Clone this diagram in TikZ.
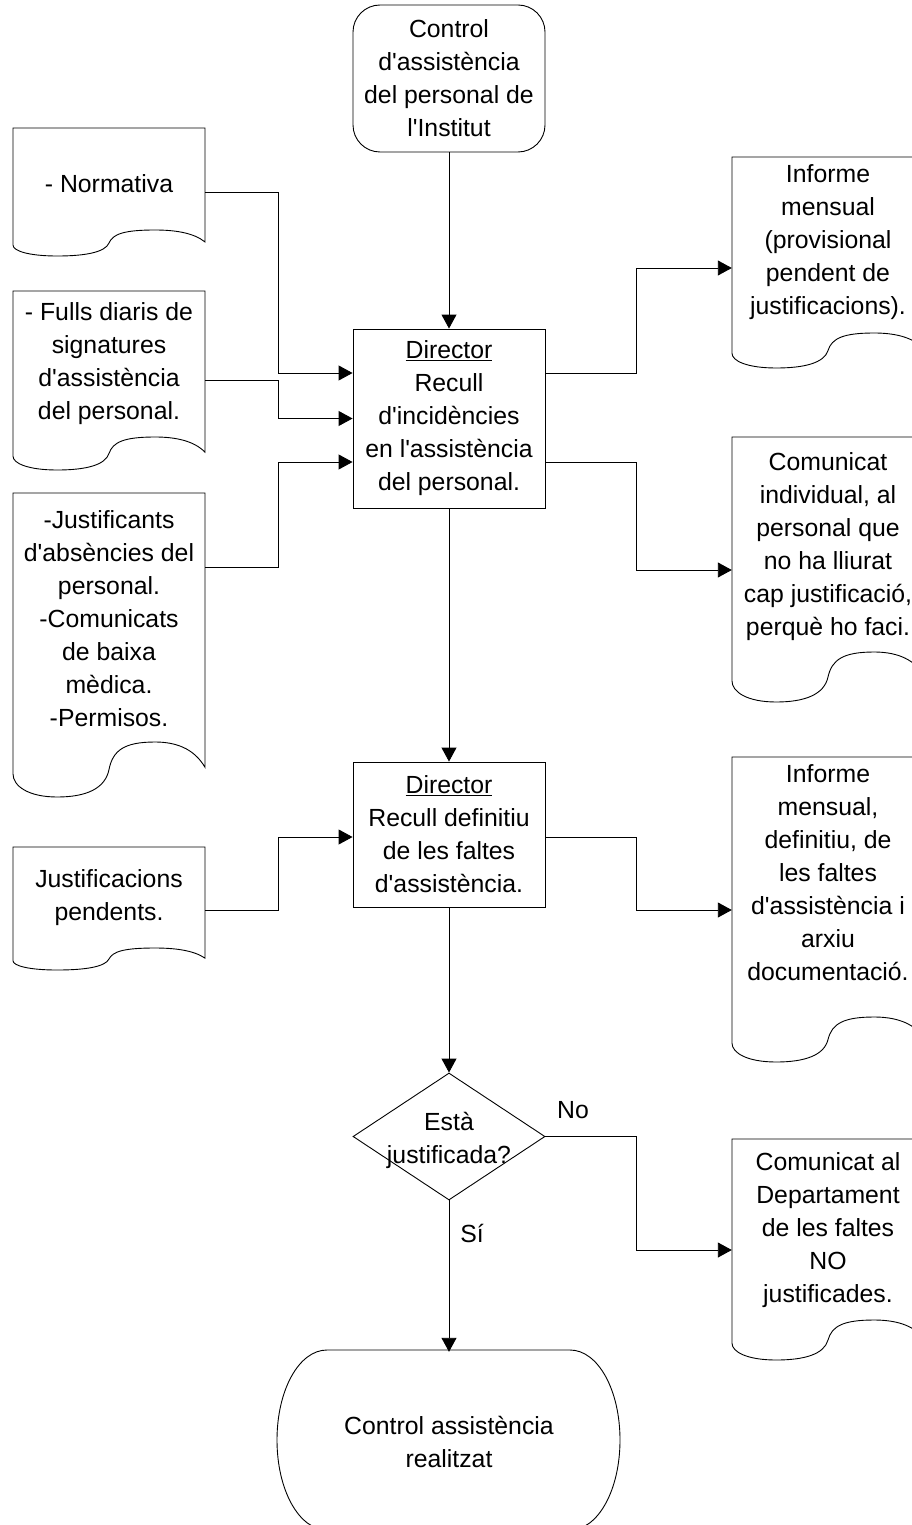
\documentclass[tikz,border=0pt]{standalone}
\usepackage{fontspec}
\setmainfont{Liberation Sans}[Ligatures=TeXOff]
\usetikzlibrary{arrows.meta,shapes.geometric}
\tikzset{
 shapeline/.style={draw=black,line width=0.9pt},
 txt/.style={font=\fontsize{24.8}{33}\selectfont, align=center, inner sep=0pt},
 termbox/.style={shapeline, txt, rectangle, rounded corners=27pt, minimum width=192pt, minimum height=147pt},
 procbox/.style={shapeline, txt, rectangle, minimum width=192pt},
 decision/.style={shapeline, diamond, minimum width=192pt, minimum height=127pt, inner sep=0pt},
 doctxt/.style={txt, minimum width=192pt},
 conn/.style={draw=black, line width=0.9pt, -{Triangle[length=14pt,width=15pt]}},
}
% document shape: x0, top, x1, crest y, wave height
\newcommand\docshape[5]{%
 \pgfmathsetmacro\dW{#3-#1}%
 \draw[shapeline] (#1,#2) -- (#3,#2) -- (#3,{#4+0.46*#5})
   .. controls ({#3-0.06*\dW},{#4+0.1*#5}) and ({#1+0.84*\dW},{#4}) .. ({#1+0.74*\dW},{#4})
   .. controls ({#1+0.58*\dW},{#4}) and ({#1+0.52*\dW},{#4+0.15*#5}) .. ({#1+0.5*\dW},{#4+0.5*#5})
   .. controls ({#1+0.48*\dW},{#4+0.85*#5}) and ({#1+0.38*\dW},{#4+#5}) .. ({#1+0.23*\dW},{#4+#5})
   .. controls ({#1+0.08*\dW},{#4+#5}) and ({#1},{#4+0.8*#5}) .. (#1,{#4+0.58*#5}) -- cycle;}
\begin{document}
\begin{tikzpicture}[x=1pt,y=-1pt]
\useasboundingbox (0,0) rectangle (912,1525);

% main column
\node[termbox] (start) at (449,78.5) {Control\\d'assistència\\del personal de\\l'Institut};
\node[procbox, minimum height=179pt] (rec1) at (449,418.5) {\underline{Director}\\Recull\\d'incidències\\en l'assistència\\del personal.};
\node[procbox, minimum height=145pt] (rec2) at (449,834.5) {\underline{Director}\\Recull definitiu\\de les faltes\\d'assistència.};
\node[decision] (dec) at (449,1136.5) {};
\node[txt] (dectxt) at (449,1140) {Està\\justificada?};

% end terminal
\node[txt, minimum width=343pt, minimum height=180pt] (end) at (449,1442) {Control assistència\\realitzat};
\draw[shapeline] (277,1440) .. controls (277,1390) and (299,1350) .. (327,1350) -- (570,1350)
  .. controls (598,1350) and (620,1390) .. (620,1440)
  .. controls (620,1490) and (598,1530) .. (570,1530) -- (327,1530)
  .. controls (299,1530) and (277,1490) .. (277,1440) -- cycle;

% left documents
\docshape{13}{128}{205}{230}{26}
\node[doctxt] (norm) at (109,184) {- Normativa};
\docshape{13}{291}{205}{437}{33}
\node[doctxt] (fulls) at (109,364) {- Fulls diaris de\\signatures\\d'assistència\\del personal.};
\docshape{13}{493}{205}{742}{55}
\node[doctxt] (just) at (109,619) {-Justificants\\d'absències del\\personal.\\-Comunicats\\de baixa\\mèdica.\\-Permisos.};
\docshape{13}{847}{205}{948}{22}
\node[doctxt] (justp) at (109,898) {Justificacions\\pendents.};

% right documents
\docshape{732}{157}{924}{333}{35}
\node[doctxt] (inf1) at (828,242) {Informe\\mensual\\(provisional\\pendent de\\justificacions).};
\docshape{732}{437}{924}{652}{50}
\node[doctxt] (com1) at (828,547) {Comunicat\\individual, al\\personal que\\no ha lliurat\\cap justificació,\\perquè ho faci.};
\docshape{732}{757}{924}{1017}{45}
\node[doctxt] (inf2) at (828,873) {Informe\\mensual,\\definitiu, de\\les faltes\\d'assistència i\\arxiu\\documentació.};
\docshape{732}{1139}{924}{1320}{40}
\node[doctxt] (com2) at (828,1230) {Comunicat al\\Departament\\de les faltes\\NO\\justificades.};

% connectors
\draw[conn] (start.south) -- (rec1.north);
\draw[conn] ([yshift=-8pt]norm.east) -- ++(73,0) |- ([yshift=45.5pt]rec1.west);
\draw[conn] ([yshift=-16pt]fulls.east) -- ++(73,0) |- (rec1.west);
\draw[conn] ([yshift=52pt]just.east) -- ++(73,0) |- ([yshift=-43.5pt]rec1.west);
\draw[conn] ([yshift=45.5pt]rec1.east) -- ++(91,0) |- ([yshift=-26pt]inf1.west);
\draw[conn] ([yshift=-43.5pt]rec1.east) -- ++(91,0) |- ([yshift=-23pt]com1.west);
\draw[conn] (rec1.south) -- (rec2.north);
\draw[conn] ([yshift=-12pt]justp.east) -- ++(73,0) |- ([yshift=-2.5pt]rec2.west);
\draw[conn] ([yshift=-2.5pt]rec2.east) -- ++(91,0) |- ([yshift=-37pt]inf2.west);
\draw[conn] (rec2.south) -- (dec.north);
\draw[conn] (dec.east) -- ++(91,0) |- ([yshift=-20pt]com2.west);
\draw[conn] (dec.south) -- (dec.south |- end.north);

% labels
\node[txt] (nolab) at (573,1110) {No};
\node[txt] (silab) at (472,1233) {Sí};
\end{tikzpicture}
\end{document}
